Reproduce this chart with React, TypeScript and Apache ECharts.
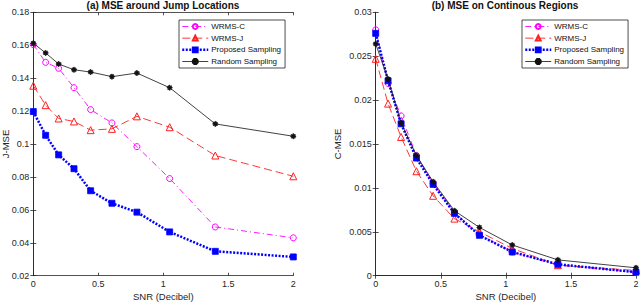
import React, { useEffect, useRef } from "react";
import * as echarts from "echarts";

const snr = [0, 0.095, 0.195, 0.313, 0.441, 0.605, 0.797, 1.049, 1.4, 2];
const seriesNames = ["WRMS-C", "WRMS-J", "Proposed Sampling", "Random Sampling"];

const jmseC = [0.1604, 0.1496, 0.146, 0.1342, 0.1209, 0.1128, 0.0984, 0.079, 0.0496, 0.043];
const jmseJ = [0.1354, 0.1236, 0.1155, 0.1137, 0.1084, 0.1092, 0.1168, 0.1102, 0.093, 0.0804];
const jmseP = [0.1197, 0.1053, 0.0934, 0.085, 0.0716, 0.064, 0.0586, 0.0466, 0.0348, 0.0314];
const jmseR = [0.1612, 0.1553, 0.1486, 0.1451, 0.1437, 0.1409, 0.1431, 0.1342, 0.1122, 0.1047];

const cmseC = [0.028, 0.0219, 0.0182, 0.0137, 0.0105, 0.0072, 0.0047, 0.0027, 0.0012, 0.0004];
const cmseJ = [0.0247, 0.0196, 0.0158, 0.0119, 0.0091, 0.0065, 0.005, 0.0031, 0.0012, 0.0006];
const cmseP = [0.0276, 0.0222, 0.0173, 0.0134, 0.0104, 0.0071, 0.0046, 0.0027, 0.0013, 0.0004];
const cmseR = [0.0264, 0.0224, 0.0174, 0.0137, 0.0107, 0.0074, 0.0055, 0.0035, 0.0018, 0.0009];

const titles = ["(a) MSE around Jump Locations", "(b) MSE on Continous Regions"];
const yNames = ["J-MSE", "C-MSE"];
const xName = "SNR (Decibel)";

const asterisk =
  "path://M-0.8,-5L0.8,-5L0.8,5L-0.8,5Z M-5,-0.8L5,-0.8L5,0.8L-5,0.8Z M-4.11,-2.97L-2.97,-4.11L4.11,2.97L2.97,4.11Z M-2.97,4.11L-4.11,2.97L2.97,-4.11L4.11,-2.97Z";

const FONT = "Liberation Sans, Arial, sans-serif";
const AX = "#262626";

function zip(ys: number[]) {
  return snr.map((x, i) => [x, ys[i]]);
}

export default function App() {
  const ref = useRef<HTMLDivElement>(null);
  useEffect(() => {
    document.body.style.margin = "0";
    const chart = echarts.init(ref.current!, null, { renderer: "svg" });
    const grids = [
      { left: 33.3, top: 12.3, width: 260, height: 263.4, outerBoundsMode: "none", containLabel: false },
      { left: 375.7, top: 12.3, width: 260.3, height: 263.4, outerBoundsMode: "none", containLabel: false },
    ];
    const yCfg = [
      { min: 0.02, max: 0.18, interval: 0.02, gap: 23 },
      { min: 0, max: 0.03, interval: 0.005, gap: 33 },
    ];
    const xAxes: any[] = [];
    const yAxes: any[] = [];
    grids.forEach((g, gi) => {
      xAxes.push({
        type: "value", gridIndex: gi, min: 0, max: 2, interval: 0.5, position: "bottom",
        name: xName, nameLocation: "middle", nameGap: 16, nameMoveOverlap: false,
        nameTextStyle: { fontSize: 9.5, color: AX, fontFamily: FONT },
        axisLine: { lineStyle: { color: AX, width: 0.8 } },
        axisTick: { inside: true, length: 3, lineStyle: { color: AX, width: 0.8 } },
        axisLabel: { fontSize: 9, color: AX, fontFamily: FONT, margin: 4 },
        splitLine: { show: false },
      });
      xAxes.push({
        type: "value", gridIndex: gi, min: 0, max: 2, interval: 0.5, position: "top",
        axisLine: { lineStyle: { color: AX, width: 0.8 } },
        axisTick: { inside: true, length: 3, lineStyle: { color: AX, width: 0.8 } },
        axisLabel: { show: false }, splitLine: { show: false },
      });
      const c = yCfg[gi];
      yAxes.push({
        type: "value", gridIndex: gi, min: c.min, max: c.max, interval: c.interval, position: "left",
        name: yNames[gi], nameLocation: "middle", nameGap: c.gap, nameMoveOverlap: false,
        nameTextStyle: { fontSize: 9.5, color: AX, fontFamily: FONT },
        axisLine: { show: true, lineStyle: { color: AX, width: 0.8 } },
        axisTick: { show: true, inside: true, length: 3, lineStyle: { color: AX, width: 0.8 } },
        axisLabel: { fontSize: 9, color: AX, fontFamily: FONT, margin: 4 },
        splitLine: { show: false },
      });
      yAxes.push({
        type: "value", gridIndex: gi, min: c.min, max: c.max, interval: c.interval, position: "right",
        axisLine: { show: true, lineStyle: { color: AX, width: 0.8 } },
        axisTick: { show: true, inside: true, length: 3, lineStyle: { color: AX, width: 0.8 } },
        axisLabel: { show: false }, splitLine: { show: false },
      });
    });

    const dataSets = [
      [jmseC, jmseJ, jmseP, jmseR],
      [cmseC, cmseJ, cmseP, cmseR],
    ];
    const styles = [
      { color: "#ff00ff", symbol: "circle", size: 6, type: [6, 3, 1, 3], width: 0.9, fill: "none" },
      { color: "#ff2020", symbol: "triangle", size: 7, type: [8, 4], width: 0.9, fill: "none" },
      { color: "#0000ff", symbol: "rect", size: 6, type: [2, 1.5], width: 2.5, fill: "#0000ff" },
      { color: "#111111", symbol: asterisk, size: 5, type: "solid", width: 0.8, fill: "#111111" },
    ];
    const series: any[] = [];
    dataSets.forEach((ds, gi) => {
      ds.forEach((ys, si) => {
        const s = styles[si];
        series.push({
          type: "line", name: seriesNames[si], xAxisIndex: gi * 2, yAxisIndex: gi * 2,
          data: zip(ys), symbol: s.symbol, symbolSize: s.size, showSymbol: true,
          lineStyle: { color: s.color, type: s.type, width: s.width },
          itemStyle: { color: s.fill, borderColor: s.color, borderWidth: si < 2 ? 1 : 0.8 },
          color: s.color,
          z: 2 + si,
        });
      });
    });

    const legendCommon = {
      orient: "vertical",
      data: seriesNames,
      backgroundColor: "#fff",
      borderColor: "#222",
      borderWidth: 0.8,
      borderRadius: 0,
      padding: [1, 4, 1, 2],
      itemGap: 0.67,
      itemWidth: 26,
      itemHeight: 6,
      lineStyle: { width: "inherit", type: "inherit" },
      textStyle: { fontSize: 8, lineHeight: 11, color: "#111", fontFamily: FONT, padding: [0, 0, 0, -2] },
    };

    chart.setOption({
      animation: false,
      grid: grids,
      xAxis: xAxes,
      yAxis: yAxes,
      series,
      legend: [
        { ...legendCommon, left: 179, top: 20 },
        { ...legendCommon, left: 522, top: 20 },
      ],
      graphic: titles.map((t, i) => ({
        type: "text",
        x: i === 0 ? 163 : 505,
        y: 5,
        style: {
          text: t, font: `bold 10px ${FONT}`, fill: "#111",
          textAlign: "center", textVerticalAlign: "middle",
        },
      })),
    });
    return () => chart.dispose();
  }, []);
  return <div ref={ref} style={{ width: 640, height: 304, position: "absolute", left: 0, top: 0 }} />;
}
